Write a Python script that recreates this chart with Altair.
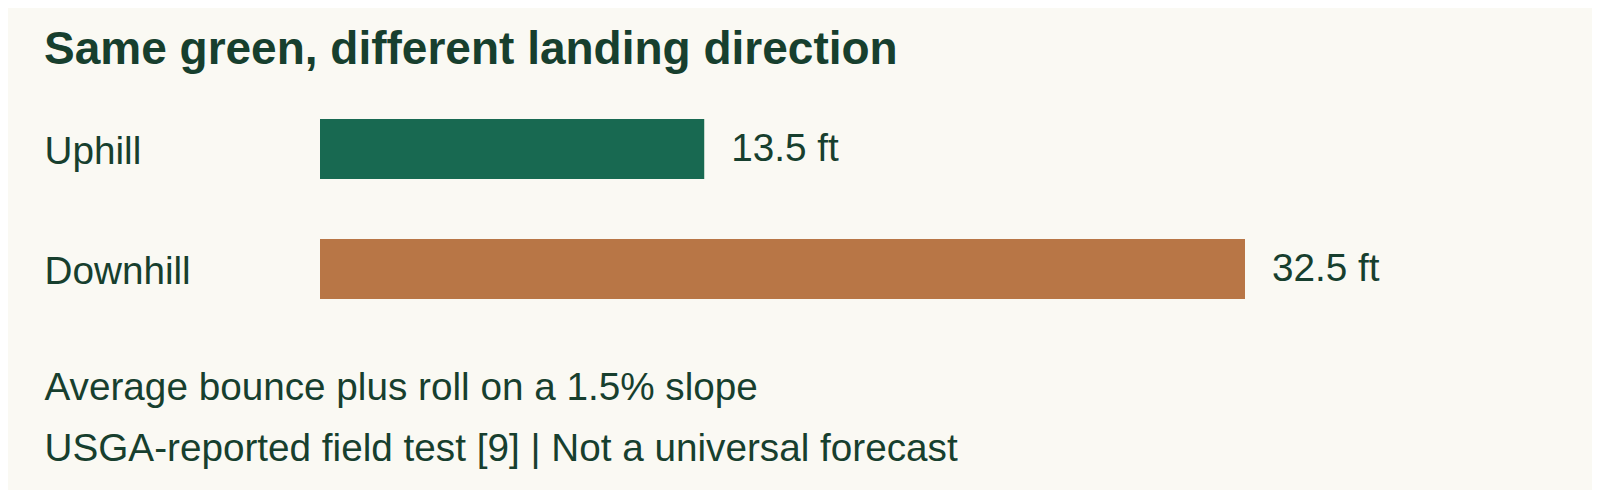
import altair as alt
import pandas as pd

# ---- data ----
categories = ["Uphill", "Downhill"]
distances = [13.5, 32.5]
value_labels = ["13.5 ft", "32.5 ft"]
title_text = "Same green, different landing direction"
footnotes = [
    "Average bounce plus roll on a 1.5% slope",
    "USGA-reported field test [9] | Not a universal forecast",
]

df = pd.DataFrame({"direction": categories, "distance": distances, "label": value_labels})

BG = "#faf9f3"
INK = "#173f2e"
FONT = "Liberation Sans"
bar_colors = ["#186951", "#b87646"]
LEFT = 276
FS = 38.7

y_enc = alt.Y(
    "direction:N",
    sort=categories,
    scale=alt.Scale(paddingInner=0.5, paddingOuter=0),
    axis=alt.Axis(
        title=None,
        domain=False,
        ticks=False,
        tickSize=0,
        labelAlign="left",
        labelPadding=LEFT,
        labelBaseline="alphabetic",
        labelOffset=15,
        labelFontSize=FS,
        labelColor=INK,
        labelFont=FONT,
    ),
)

x_enc = alt.X(
    "distance:Q",
    scale=alt.Scale(domain=[0, 32.5], nice=False, zero=True),
    axis=alt.Axis(
        title=footnotes,
        labels=False,
        ticks=False,
        domain=False,
        grid=False,
        titleX=-LEFT,
        titleY=100,
        titleAlign="left",
        titleBaseline="alphabetic",
        titleLineHeight=61,
        titleFontSize=FS,
        titleFontWeight="normal",
        titleColor=INK,
        titleFont=FONT,
    ),
)

bars = alt.Chart(df).mark_bar().encode(
    x=x_enc,
    y=y_enc,
    color=alt.Color(
        "direction:N",
        scale=alt.Scale(domain=categories, range=bar_colors),
        legend=None,
    ),
)

labels = alt.Chart(df).mark_text(
    align="left",
    baseline="alphabetic",
    dx=27,
    dy=12,
    fontSize=FS,
    font=FONT,
    color=INK,
).encode(
    x=alt.X("distance:Q"),
    y=alt.Y("direction:N", sort=categories),
    text="label:N",
)

chart = (
    alt.layer(bars, labels)
    .properties(
        width=925,
        height=180,
        autosize=alt.AutoSizeParams(type="none"),
        padding={"left": 312, "top": 111, "right": 347, "bottom": 191},
        background=BG,
        title=alt.TitleParams(
            text=title_text,
            anchor="start",
            frame="group",
            orient="top",
            dx=-LEFT,
            offset=9,
            baseline="alphabetic",
            fontSize=46,
            fontWeight="bold",
            font=FONT,
            color=INK,
        ),
    )
    .configure_view(stroke=None)
)

chart.save("out.html", embed_options={"renderer": "svg", "actions": False})
